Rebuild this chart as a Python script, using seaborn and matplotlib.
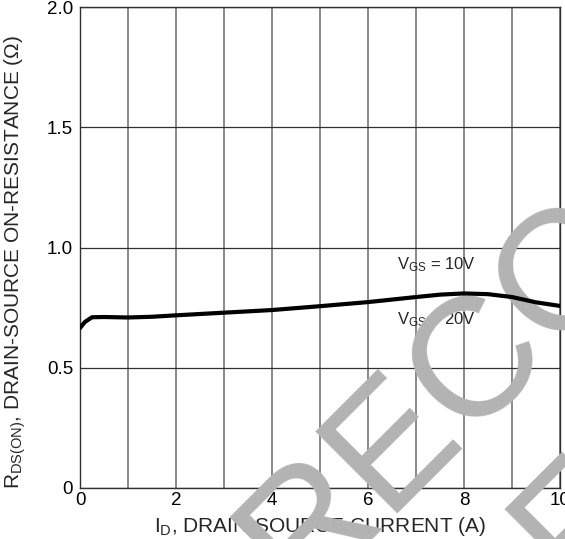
import matplotlib
matplotlib.use('Agg')
import matplotlib.pyplot as plt
import seaborn as sns
import pandas as pd

sns.set_style('white')
plt.rcParams['font.family'] = ['Liberation Sans', 'DejaVu Sans']
plt.rcParams['mathtext.fontset'] = 'custom'
plt.rcParams['mathtext.rm'] = 'Liberation Sans'
plt.rcParams['mathtext.it'] = 'Liberation Sans'

# curve
drain_current = [0, 0.1, 0.25, 0.5, 1.0, 1.5, 2, 3, 4, 5, 6, 7, 7.5, 8, 8.5, 9, 9.5, 10]
on_resistance = [0.665, 0.69, 0.71, 0.711, 0.709, 0.712, 0.718, 0.729, 0.74, 0.756,
                 0.773, 0.794, 0.804, 0.809, 0.806, 0.794, 0.772, 0.757]
x_ticks = [0, 2, 4, 6, 8, 10]
y_ticks = [0, 0.5, 1.0, 1.5, 2.0]
y_tick_labels = ['0', '0.5', '1.0', '1.5', '2.0']

df = pd.DataFrame({'id': drain_current, 'rds': on_resistance})

fig = plt.figure(figsize=(5.65, 5.39), dpi=100)
ax = fig.add_axes([80 / 565, 1 - 488 / 539, 480 / 565, 481 / 539])

sns.lineplot(data=df, x='id', y='rds', color='black', linewidth=3, ax=ax, zorder=3)

ax.set_xlim(0, 10)
ax.set_ylim(0, 2.0)
ax.set_xticks(x_ticks)
ax.set_xticks(range(0, 11), minor=True)
ax.set_yticks(y_ticks)
ax.set_yticklabels(y_tick_labels)
ax.tick_params(axis='both', which='both', length=0, labelsize=13.5, colors='black')
ax.tick_params(axis='x', pad=3)
ax.tick_params(axis='y', pad=5)

ax.grid(True, axis='x', which='both', color='#6a6a6a', linewidth=1.1)
ax.grid(True, axis='y', which='major', color='#303030', linewidth=0.9)
for s in ax.spines.values():
    s.set_color('#303030')
    s.set_linewidth(1.0)

ax.set_xlabel(r'I$_{\mathregular{D}}$, DRAIN-SOURCE CURRENT (A)', fontsize=15)
ax.set_ylabel(r'R$_{\mathregular{DS(ON)}}$, DRAIN-SOURCE ON-RESISTANCE (Ω)', fontsize=15)
ax.xaxis.set_label_coords(0.5, -27 / 481)
ax.yaxis.set_label_coords(-52 / 480, 0.47)

ax.text(6.6, 0.93, r'V$_{\mathregular{GS}}$ = 10V', fontsize=12, va='center', ha='left', zorder=2.55)
ax.text(6.6, 0.70, r'V$_{\mathregular{GS}}$ = 20V', fontsize=12, va='center', ha='left', zorder=2.55)

# watermark (two lines, only partly inside the figure)
ax.text(298 / 565, 1 - 600 / 539, 'RECOMMENDED', transform=fig.transFigure,
        fontsize=122, color='#b3b3b3', rotation=45, rotation_mode='anchor',
        ha='left', va='baseline', clip_on=False, zorder=2.6)
ax.text(578 / 565, 1 - 601 / 539, 'FOR NEW DESIGN', transform=fig.transFigure,
        fontsize=120, color='#b3b3b3', rotation=45, rotation_mode='anchor',
        ha='left', va='baseline', clip_on=False, zorder=2.6)

fig.savefig('out.png', dpi=100)
